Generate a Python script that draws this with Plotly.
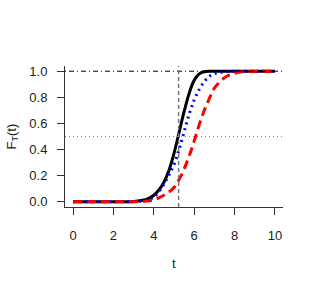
import plotly.graph_objects as go

# time grid (shared)
t = [0, 1, 2, 3, 3.5, 3.75, 4, 4.25, 4.5, 4.75, 5, 5.25, 5.5, 5.75, 6, 6.25,
     6.5, 6.75, 7, 7.25, 7.5, 7.75, 8, 8.5, 9, 10]

# CDF values
F_black = [0, 0, 0, 0.003, 0.013, 0.026, 0.05, 0.09, 0.15, 0.24, 0.37,
           0.53, 0.69, 0.83, 0.93, 0.98, 0.996, 1.0, 1.0, 1.0, 1.0, 1.0,
           1.0, 1.0, 1.0, 1.0]
F_blue = [0, 0, 0, 0.002, 0.008, 0.018, 0.035, 0.075, 0.135, 0.205, 0.285,
          0.40, 0.535, 0.67, 0.78, 0.86, 0.92, 0.96, 0.98, 0.99, 0.997, 1.0,
          1.0, 1.0, 1.0, 1.0]
F_red = [0, 0, 0, 0, 0.003, 0.007, 0.014, 0.03, 0.05, 0.075, 0.11, 0.17,
         0.25, 0.35, 0.465, 0.59, 0.70, 0.79, 0.87, 0.915, 0.95, 0.972, 0.985,
         0.996, 1.0, 1.0]

x_ticks = [0, 2, 4, 6, 8, 10]
y_ticks = [0.0, 0.2, 0.4, 0.6, 0.8, 1.0]
y_tick_text = ["0.0", "0.2", "0.4", "0.6", "0.8", "1.0"]
median_t = 5.23
ref_half = 0.5
ref_one = 1.0

fig = go.Figure()
fig.add_trace(go.Scatter(x=t, y=F_black, mode="lines", line=dict(color="black", width=3, shape="spline")))
fig.add_trace(go.Scatter(x=t, y=F_blue, mode="lines", line=dict(color="blue", width=3, dash="2px,4px", shape="spline")))
fig.add_trace(go.Scatter(x=t, y=F_red, mode="lines", line=dict(color="red", width=3, dash="9px,5px", shape="spline")))

fig.add_shape(type="line", xref="paper", yref="y", x0=0, x1=1, y0=ref_one, y1=ref_one,
              line=dict(color="black", width=1, dash="1px,3px,5px,3px"))
fig.add_shape(type="line", xref="paper", yref="y", x0=0, x1=1, y0=ref_half, y1=ref_half,
              line=dict(color="#888888", width=1, dash="1px,3px"))
fig.add_shape(type="line", xref="x", yref="paper", x0=median_t, x1=median_t, y0=0, y1=1,
              line=dict(color="#777777", width=1.5, dash="4px,3px"))

font = dict(family="Liberation Sans, Arial, sans-serif", size=13, color="#222222")
fig.update_layout(
    width=316, height=288,
    margin=dict(l=64.6, r=32.9, t=65.5, b=81.1),
    paper_bgcolor="white", plot_bgcolor="white",
    showlegend=False, font=font, hovermode=False,
    xaxis=dict(range=[-0.4, 10.4], tickvals=x_ticks, ticks="outside", ticklen=7,
               tickcolor="#333333", showline=True, linecolor="#333333", linewidth=1,
               showgrid=False, zeroline=False, ticklabelstandoff=9),
    yaxis=dict(range=[-0.04, 1.04], tickvals=y_ticks, ticktext=y_tick_text,
               ticks="outside", ticklen=7, tickcolor="#333333", showline=True,
               linecolor="#333333", linewidth=1, showgrid=False, zeroline=False,
               ticklabelstandoff=7),
    annotations=[
        dict(text="t", xref="paper", yref="paper", x=0.5, y=0, yshift=-56,
             showarrow=False, xanchor="center", yanchor="middle", font=font),
        dict(text="F<sub>T</sub>(t)", xref="paper", yref="paper", x=0, y=0.5,
             xshift=-53, textangle=-90, showarrow=False, xanchor="center",
             yanchor="middle", font=font),
    ],
)
fig.write_html("out.html", config={"displayModeBar": False},
               post_script="document.body.style.margin='0px';")
